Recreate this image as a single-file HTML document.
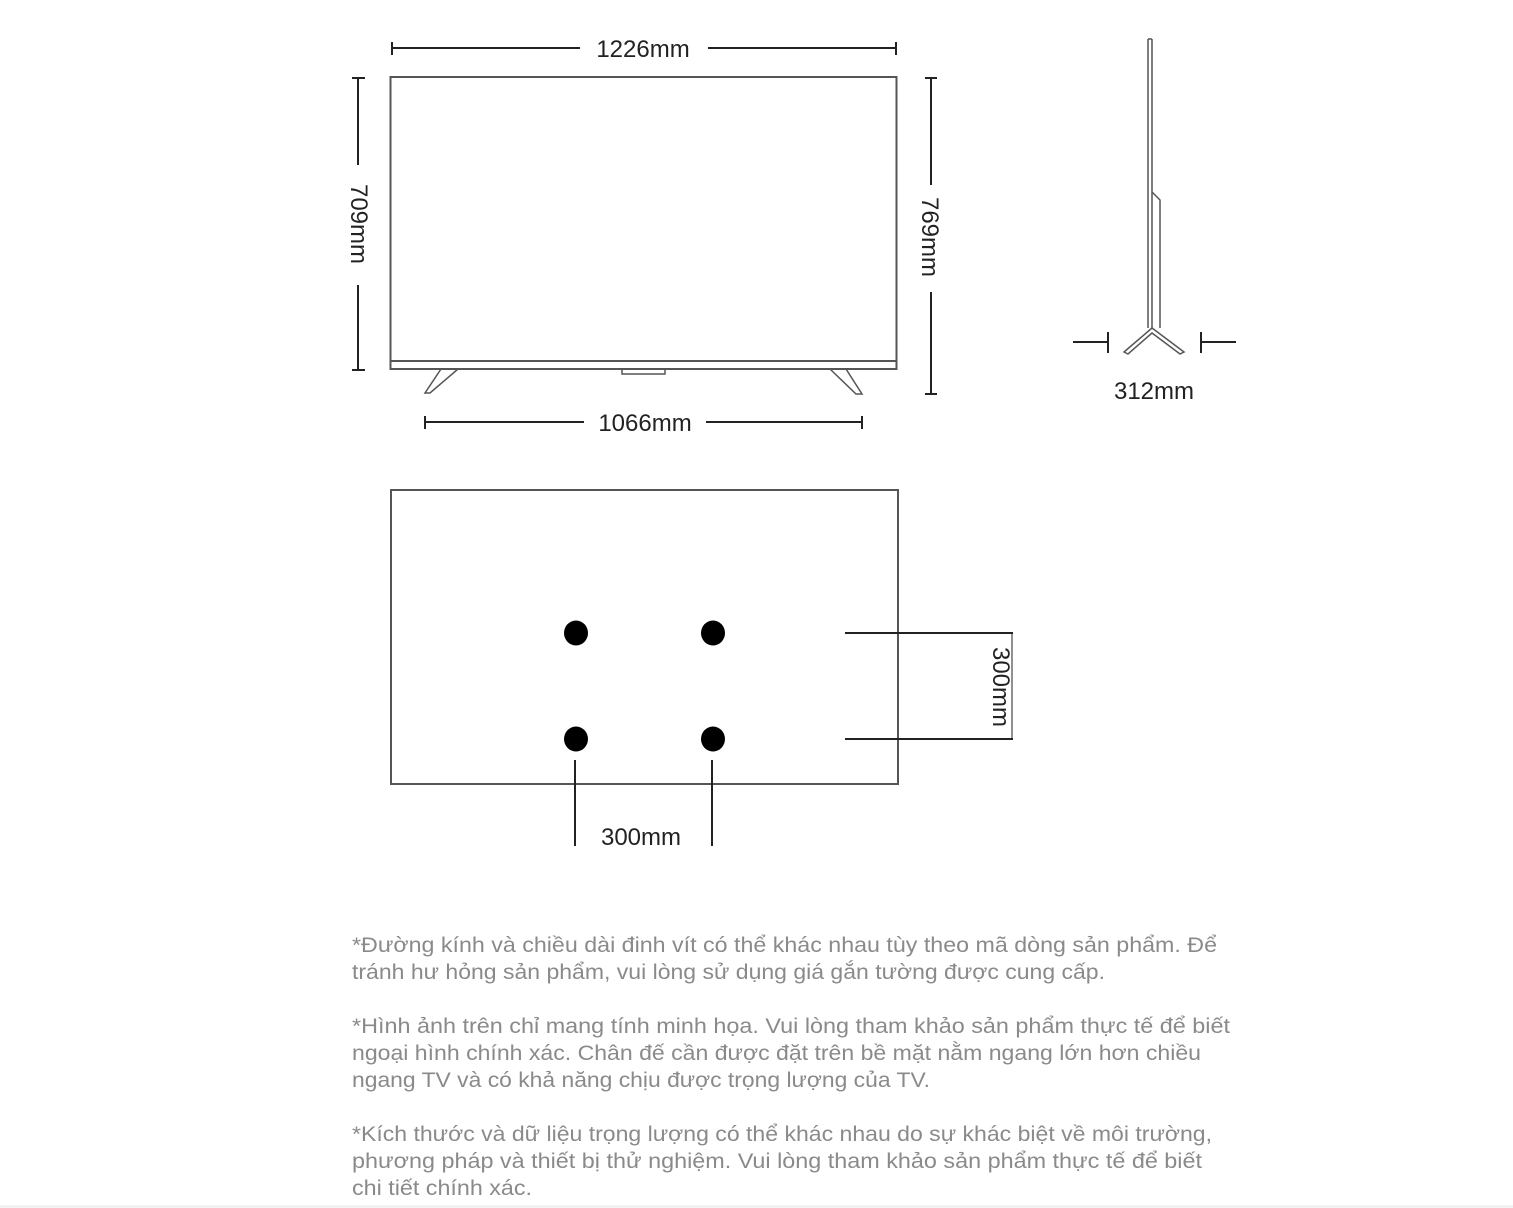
<!DOCTYPE html>
<html><head><meta charset="utf-8"><style>
html,body{margin:0;padding:0;background:#fff;}
svg{display:block;}
.d{font-family:"Liberation Sans",sans-serif;font-size:24px;fill:#222;}
.t{font-family:"Liberation Sans",sans-serif;font-size:21px;fill:#8a8a8a;}
</style></head><body>
<svg width="1513" height="1208" viewBox="0 0 1513 1208" xmlns="http://www.w3.org/2000/svg">
<g stroke="#222" stroke-width="2" fill="none">
<!-- top width dim -->
<line x1="392" y1="48" x2="580" y2="48"/><line x1="392" y1="42" x2="392" y2="55"/>
<line x1="708" y1="48" x2="896" y2="48"/><line x1="896" y1="42" x2="896" y2="55"/>
<!-- tv -->
<rect x="390.5" y="77" width="506" height="292" stroke="#555"/>
<line x1="391" y1="361" x2="896" y2="361" stroke="#555" stroke-width="2"/>
<path d="M622 369 v5 h43 v-5" stroke="#555" stroke-width="1.5"/>
<path d="M441 369 L425 393 L430 393 L458 369" stroke="#555" stroke-width="1.5"/>
<path d="M830 369 L856 394 L862 394 L846 369" stroke="#555" stroke-width="1.5"/>
<!-- left dim -->
<line x1="358" y1="78" x2="358" y2="165"/><line x1="352" y1="78" x2="365" y2="78"/>
<line x1="358" y1="285" x2="358" y2="370"/><line x1="352" y1="370" x2="365" y2="370"/>
<!-- right dim -->
<line x1="931" y1="78" x2="931" y2="185"/><line x1="925" y1="78" x2="937" y2="78"/>
<line x1="931" y1="292" x2="931" y2="394"/><line x1="925" y1="394" x2="937" y2="394"/>
<!-- bottom dim -->
<line x1="425" y1="422" x2="584" y2="422"/><line x1="425" y1="416" x2="425" y2="429"/>
<line x1="706" y1="422" x2="862" y2="422"/><line x1="862" y1="416" x2="862" y2="429"/>
<!-- side view -->
<path d="M1148 39 L1148 328 M1152 39 L1152 328 M1148 39 H1152" stroke="#555" stroke-width="1.5"/>
<path d="M1152 192 L1160 200 L1160 328" stroke="#555" stroke-width="1.5"/>
<path d="M1124 352 L1152 328 L1184 352 L1180 354 L1152 333 L1128 354 Z" stroke="#555" stroke-width="1.5"/>
<line x1="1073" y1="342" x2="1108" y2="342"/><line x1="1108" y1="332" x2="1108" y2="353"/>
<line x1="1201" y1="342" x2="1236" y2="342"/><line x1="1201" y1="332" x2="1201" y2="353"/>
<!-- back -->
<rect x="391" y="490" width="507" height="294" stroke="#555"/>
<line x1="845" y1="633" x2="1013" y2="633"/><line x1="845" y1="739" x2="1013" y2="739"/>
<line x1="1012" y1="633" x2="1012" y2="739" stroke-width="1"/>
<line x1="575" y1="760" x2="575" y2="846"/><line x1="712" y1="760" x2="712" y2="846"/>
</g>
<g fill="#000">
<ellipse cx="576" cy="633" rx="12" ry="12.5"/><ellipse cx="713" cy="633" rx="12" ry="12.5"/>
<ellipse cx="576" cy="739" rx="12" ry="12.5"/><ellipse cx="713" cy="739" rx="12" ry="12.5"/>
</g>
<text class="d" x="643" y="57" text-anchor="middle">1226mm</text>
<text class="d" x="645" y="431" text-anchor="middle">1066mm</text>
<text class="d" x="1154" y="399" text-anchor="middle">312mm</text>
<text class="d" x="641" y="845" text-anchor="middle">300mm</text>
<text class="d" transform="translate(351,224) rotate(90)" text-anchor="middle">709mm</text>
<text class="d" transform="translate(922,237) rotate(90)" text-anchor="middle">769mm</text>
<text class="d" transform="translate(993,687) rotate(90)" text-anchor="middle">300mm</text>
<text class="t" x="352" y="952" textLength="865" lengthAdjust="spacingAndGlyphs">*Đường kính và chiều dài đinh vít có thể khác nhau tùy theo mã dòng sản phẩm. Để</text>
<text class="t" x="352" y="979" textLength="753" lengthAdjust="spacingAndGlyphs">tránh hư hỏng sản phẩm, vui lòng sử dụng giá gắn tường được cung cấp.</text>
<text class="t" x="352" y="1033" textLength="878" lengthAdjust="spacingAndGlyphs">*Hình ảnh trên chỉ mang tính minh họa. Vui lòng tham khảo sản phẩm thực tế để biết</text>
<text class="t" x="352" y="1060" textLength="849" lengthAdjust="spacingAndGlyphs">ngoại hình chính xác. Chân đế cần được đặt trên bề mặt nằm ngang lớn hơn chiều</text>
<text class="t" x="352" y="1087" textLength="578" lengthAdjust="spacingAndGlyphs">ngang TV và có khả năng chịu được trọng lượng của TV.</text>
<text class="t" x="352" y="1141" textLength="860" lengthAdjust="spacingAndGlyphs">*Kích thước và dữ liệu trọng lượng có thể khác nhau do sự khác biệt về môi trường,</text>
<text class="t" x="352" y="1168" textLength="850" lengthAdjust="spacingAndGlyphs">phương pháp và thiết bị thử nghiệm. Vui lòng tham khảo sản phẩm thực tế để biết</text>
<text class="t" x="352" y="1195" textLength="180" lengthAdjust="spacingAndGlyphs">chi tiết chính xác.</text>
<line x1="0" y1="1206.5" x2="1513" y2="1206.5" stroke="#eee" stroke-width="2"/>
</svg>
</body></html>
